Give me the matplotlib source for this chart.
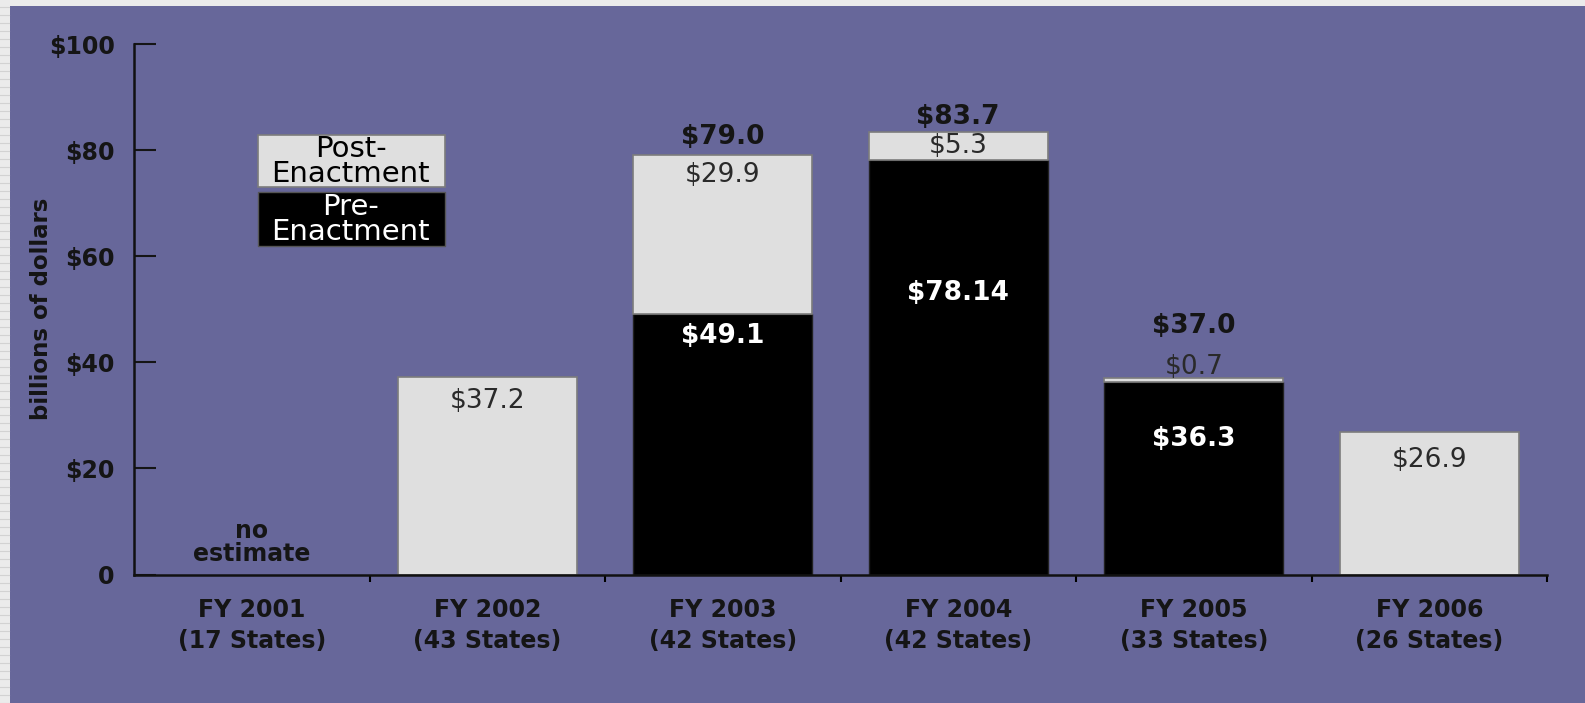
import numpy as np
import matplotlib.pyplot as plt
from matplotlib.patches import Rectangle

plt.rcParams['font.family'] = ['DejaVu Sans']

# data (billions of dollars)
years = ['FY 2001', 'FY 2002', 'FY 2003', 'FY 2004', 'FY 2005', 'FY 2006']
states = ['(17 States)', '(43 States)', '(42 States)', '(42 States)', '(33 States)', '(26 States)']
pre_enact = [0, 0, 49.1, 78.14, 36.3, 0]
post_enact = [0, 37.2, 29.9, 5.3, 0.7, 26.9]
totals = [None, None, 79.0, 83.7, 37.0, None]
pre_labels = ['', '', '$49.1', '$78.14', '$36.3', '']
post_labels = ['', '$37.2', '$29.9', '$5.3', '$0.7', '$26.9']

# label offsets relative to segment tops
pre_off = [0, 0, -4.2, -25.1, -10.7, 0]
post_off = [0, -4.5, -3.7, -2.6, 2.1, -5.3]
tot_off = [0, 0, 3.4, 2.5, 9.9, 0]

purple = '#67679a'
light = '#dfdfdf'

fig = plt.figure(figsize=(15.85, 7.03), dpi=100, facecolor=purple)
# light gray strips at the left and top edge
fig.add_artist(Rectangle((0, 0), 10 / 1585, 1, transform=fig.transFigure,
                         facecolor='#ebebeb', edgecolor='none', zorder=-5))
fig.add_artist(Rectangle((0, 1 - 6 / 703), 1, 6 / 703, transform=fig.transFigure,
                         facecolor='#ebebeb', edgecolor='none', zorder=-5))
for yy in np.arange(0, 1, 8 / 703):
    fig.add_artist(plt.Line2D([0, 9 / 1585], [yy, yy], color='#d2d2d2', lw=0.8, zorder=-4))

ax = fig.add_axes([134 / 1585, 1 - 574.6 / 703, (1547 - 134) / 1585, (574.6 - 44) / 703])
ax.set_facecolor('none')

x = np.arange(len(years)) + 0.5
w = 0.76
pre = np.array(pre_enact)
post = np.array(post_enact)
has = (pre + post) > 0
ax.bar(x[has], pre[has], width=w, color='black', edgecolor='#222222', linewidth=1, zorder=2)
ax.bar(x[has], post[has], width=w, bottom=pre[has], color=light, edgecolor='#7c7c7c',
       linewidth=1.2, zorder=2)

txt = '#151515'
for i in range(len(years)):
    if pre_labels[i]:
        ax.text(x[i], pre[i] + pre_off[i], pre_labels[i], ha='center', va='center',
                color='white', fontsize=19, fontweight='bold', zorder=3)
    if post_labels[i]:
        ax.text(x[i], pre[i] + post[i] + post_off[i], post_labels[i], ha='center', va='center',
                color='#2a2a2a', fontsize=19, zorder=3)
    if totals[i] is not None:
        ax.text(x[i], totals[i] + tot_off[i], '$%.1f' % totals[i], ha='center', va='center',
                color=txt, fontsize=19, fontweight='bold', zorder=3)

ax.text(x[0], 8.2, 'no', ha='center', va='center', color=txt, fontsize=17, fontweight='bold')
ax.text(x[0], 3.8, 'estimate', ha='center', va='center', color=txt, fontsize=17, fontweight='bold')

# legend boxes
ax.add_patch(Rectangle((0.527, 73.0), 0.793, 9.9, facecolor=light, edgecolor='#7c7c7c', lw=1.2, zorder=2))
ax.add_patch(Rectangle((0.527, 62.0), 0.793, 10.1, facecolor='black', edgecolor='#555555', lw=1, zorder=2))
ax.text(0.92, 77.8, 'Post-\nEnactment', ha='center', va='center', color='black', fontsize=21,
        linespacing=0.88, zorder=3)
ax.text(0.92, 66.9, 'Pre-\nEnactment', ha='center', va='center', color='white', fontsize=21,
        linespacing=0.88, zorder=3)

ax.set_xlim(0, 6)
ax.set_ylim(0, 100)
ax.set_yticks([0, 20, 40, 60, 80, 100])
ax.set_yticklabels(['0', '$20', '$40', '$60', '$80', '$100'])
ax.set_xticks(np.arange(1, 7))
ax.set_xticklabels([])
ax.set_xticks(x, minor=True)
ax.set_xticklabels([y + '\n' + s for y, s in zip(years, states)], minor=True,
                   linespacing=1.35)
ax.tick_params(axis='y', direction='in', length=16, width=1.5, pad=14, labelsize=17, colors=txt)
ax.tick_params(axis='x', which='major', direction='out', length=5, width=1.5)
ax.tick_params(axis='x', which='minor', length=0, pad=17, labelsize=17, colors=txt)
for lab in ax.get_xticklabels(minor=True) + ax.get_yticklabels():
    lab.set_fontweight('bold')
for s in ['top', 'right']:
    ax.spines[s].set_visible(False)
for s in ['left', 'bottom']:
    ax.spines[s].set_linewidth(1.8)
    ax.spines[s].set_color('#111111')
ax.set_ylabel('billions of dollars', fontsize=16.5, fontweight='bold', color=txt)
ax.yaxis.set_label_coords(-0.057, 0.5)

plt.savefig('out.png', dpi=100, facecolor=fig.get_facecolor())
